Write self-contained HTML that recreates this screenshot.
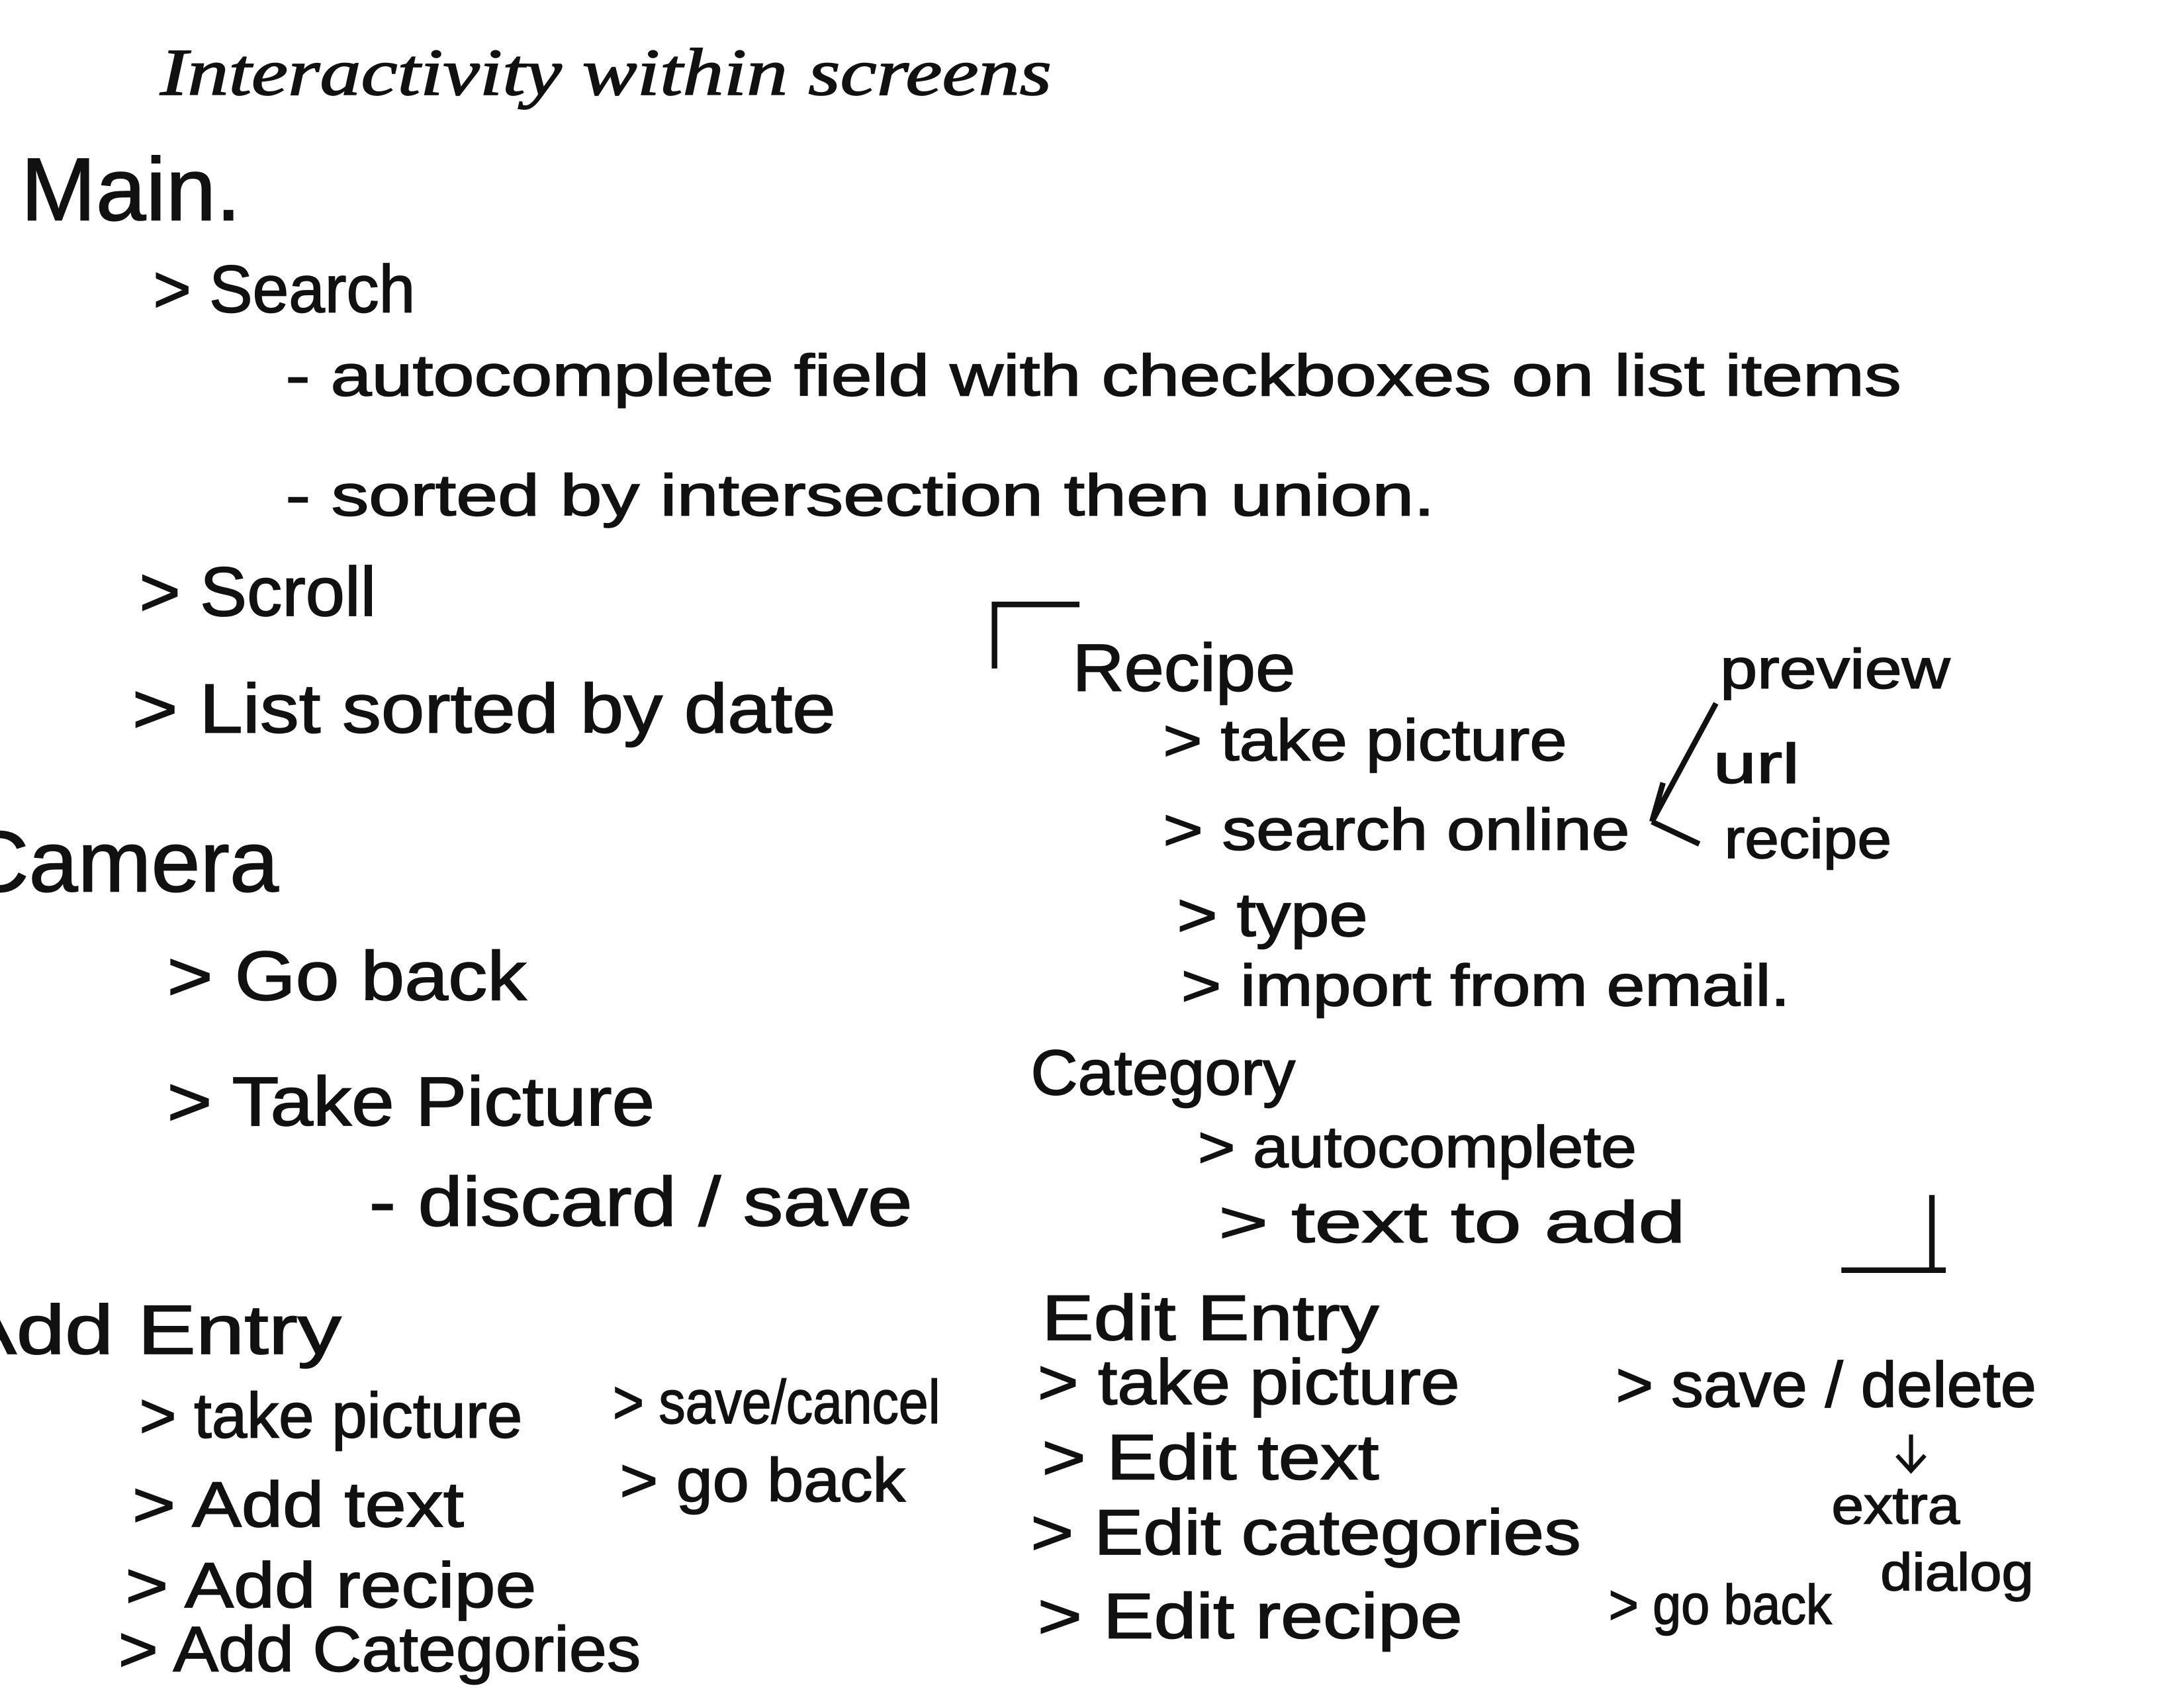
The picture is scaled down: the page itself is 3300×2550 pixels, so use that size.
<!DOCTYPE html>
<html><head><meta charset="utf-8"><style>
html,body{margin:0;padding:0;background:#fff;width:3300px;height:2550px;overflow:hidden}
svg{display:block}
text{font-family:"Liberation Sans",sans-serif;fill:#111;stroke:#111;stroke-width:0.8}
.t{font-family:"Liberation Serif",serif;font-style:italic}
</style></head><body>
<svg width="3300" height="2550" viewBox="0 0 1568 1212" preserveAspectRatio="none" xmlns="http://www.w3.org/2000/svg">
<text class="t" x="115" y="68" font-size="48" textLength="640" lengthAdjust="spacingAndGlyphs">Interactivity within screens</text>
<text x="15" y="158" font-size="64" textLength="158" lengthAdjust="spacingAndGlyphs">Main.</text>
<text x="110" y="224" font-size="48" textLength="188" lengthAdjust="spacingAndGlyphs">&gt; Search</text>
<text x="205" y="284" font-size="42" textLength="1160" lengthAdjust="spacingAndGlyphs">- autocomplete field with checkboxes on list items</text>
<text x="205" y="370" font-size="42" textLength="825" lengthAdjust="spacingAndGlyphs">- sorted by intersection then union.</text>
<text x="100" y="442" font-size="50" textLength="170" lengthAdjust="spacingAndGlyphs">&gt; Scroll</text>
<text x="95" y="526" font-size="50" textLength="505" lengthAdjust="spacingAndGlyphs">&gt; List sorted by date</text>
<text x="-25" y="640" font-size="62" textLength="225" lengthAdjust="spacingAndGlyphs">Camera</text>
<text x="120" y="718" font-size="50" textLength="258" lengthAdjust="spacingAndGlyphs">&gt; Go back</text>
<text x="120" y="808" font-size="50" textLength="350" lengthAdjust="spacingAndGlyphs">&gt; Take Picture</text>
<text x="265" y="880" font-size="50" textLength="390" lengthAdjust="spacingAndGlyphs">-  discard / save</text>
<text x="-30" y="972" font-size="50" textLength="275" lengthAdjust="spacingAndGlyphs">Add Entry</text>
<text x="100" y="1032" font-size="46" textLength="275" lengthAdjust="spacingAndGlyphs">&gt; take picture</text>
<text x="95" y="1096" font-size="46" textLength="238" lengthAdjust="spacingAndGlyphs">&gt; Add text</text>
<text x="90" y="1154" font-size="46" textLength="295" lengthAdjust="spacingAndGlyphs">&gt; Add recipe</text>
<text x="85" y="1200" font-size="46" textLength="375" lengthAdjust="spacingAndGlyphs">&gt; Add Categories</text>
<text x="440" y="1022" font-size="44" textLength="235" lengthAdjust="spacingAndGlyphs">&gt; save/cancel</text>
<text x="445" y="1078" font-size="44" textLength="205" lengthAdjust="spacingAndGlyphs">&gt; go back</text>
<path d="M714 432 V480 M714 434 H775" stroke="#111" stroke-width="4" fill="none"/>
<text x="770" y="496" font-size="48" textLength="160" lengthAdjust="spacingAndGlyphs">Recipe</text>
<text x="835" y="546" font-size="42" textLength="290" lengthAdjust="spacingAndGlyphs">&gt; take picture</text>
<text x="835" y="610" font-size="42" textLength="335" lengthAdjust="spacingAndGlyphs">&gt; search online</text>
<text x="1235" y="494" font-size="40" textLength="165" lengthAdjust="spacingAndGlyphs">preview</text>
<text x="1230" y="562" font-size="40" textLength="62" lengthAdjust="spacingAndGlyphs">url</text>
<text x="1238" y="616" font-size="40" textLength="120" lengthAdjust="spacingAndGlyphs">recipe</text>
<path d="M1232 505 L1186 590 M1186 590 L1194 562 M1186 590 L1220 606" stroke="#111" stroke-width="4" fill="none"/>
<text x="845" y="672" font-size="44" textLength="137" lengthAdjust="spacingAndGlyphs">&gt; type</text>
<text x="848" y="722" font-size="42" textLength="437" lengthAdjust="spacingAndGlyphs">&gt; import from email.</text>
<text x="740" y="786" font-size="46" textLength="190" lengthAdjust="spacingAndGlyphs">Category</text>
<text x="860" y="838" font-size="42" textLength="315" lengthAdjust="spacingAndGlyphs">&gt; autocomplete</text>
<text x="875" y="892" font-size="42" textLength="335" lengthAdjust="spacingAndGlyphs">&gt; text to add</text>
<path d="M1387 858 V912 M1322 912 H1397" stroke="#111" stroke-width="4" fill="none"/>
<text x="748" y="962" font-size="46" textLength="242" lengthAdjust="spacingAndGlyphs">Edit Entry</text>
<text x="745" y="1008" font-size="46" textLength="303" lengthAdjust="spacingAndGlyphs">&gt; take picture</text>
<text x="748" y="1062" font-size="46" textLength="242" lengthAdjust="spacingAndGlyphs">&gt; Edit text</text>
<text x="740" y="1116" font-size="46" textLength="395" lengthAdjust="spacingAndGlyphs">&gt; Edit categories</text>
<text x="745" y="1176" font-size="46" textLength="305" lengthAdjust="spacingAndGlyphs">&gt; Edit recipe</text>
<text x="1160" y="1010" font-size="46" textLength="302" lengthAdjust="spacingAndGlyphs">&gt; save / delete</text>
<path d="M1372 1030 V1055 M1362 1045 L1372 1056 L1382 1045" stroke="#111" stroke-width="3" fill="none"/>
<text x="1315" y="1094" font-size="38" textLength="92" lengthAdjust="spacingAndGlyphs">extra</text>
<text x="1350" y="1142" font-size="38" textLength="110" lengthAdjust="spacingAndGlyphs">dialog</text>
<text x="1155" y="1166" font-size="40" textLength="160" lengthAdjust="spacingAndGlyphs">&gt; go back</text>
</svg>
</body></html>
